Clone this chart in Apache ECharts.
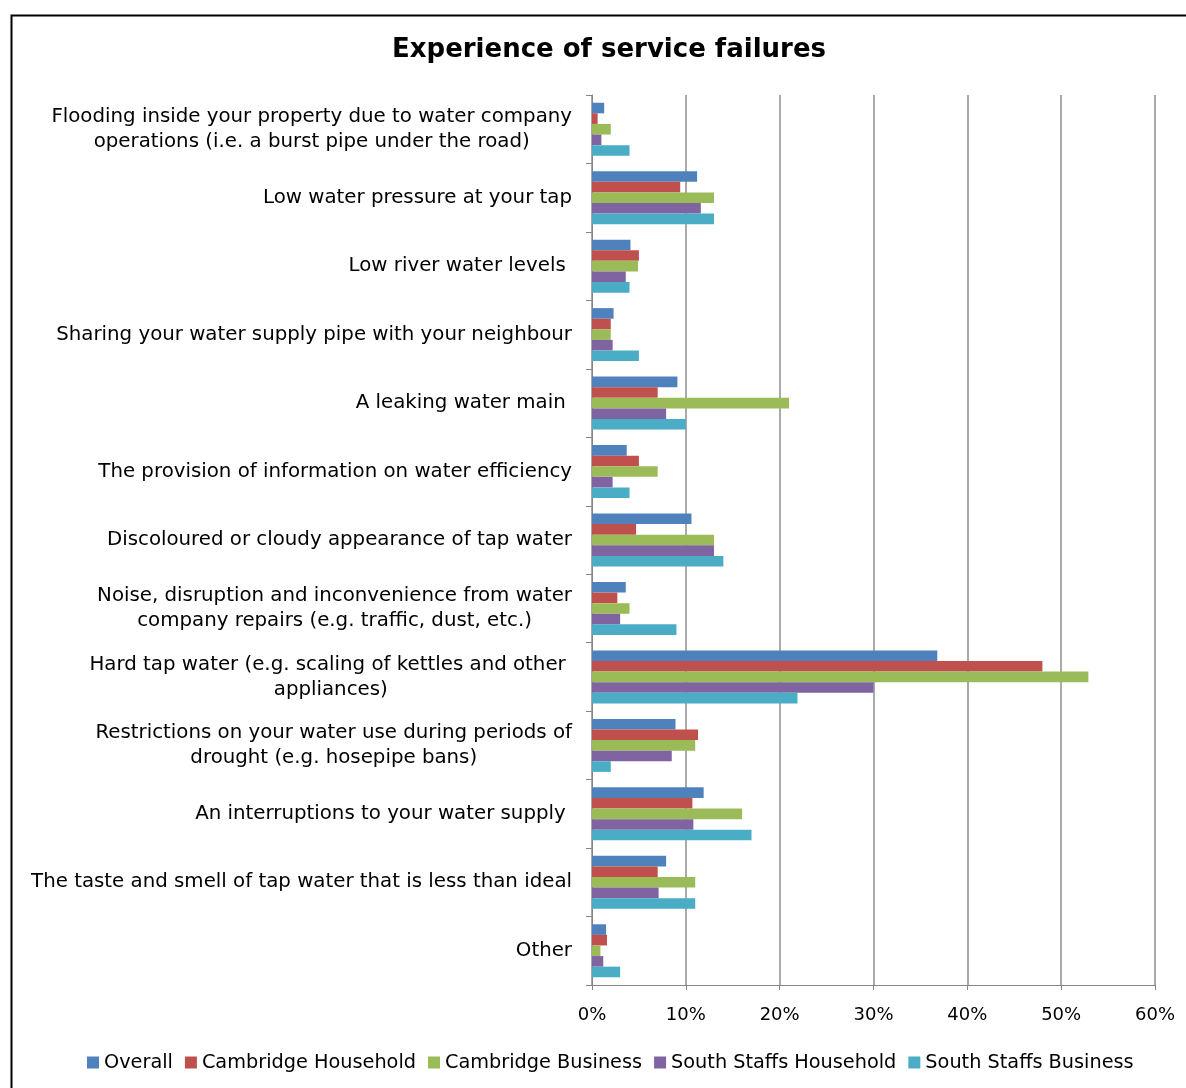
<!DOCTYPE html>
<html>
<head>
<meta charset="utf-8">
<title>Experience of service failures</title>
<script src="https://cdn.jsdelivr.net/npm/echarts@6/dist/echarts.min.js"></script>
<style>
  html, body { margin: 0; padding: 0; background: #fff; }
  #chart { width: 1186px; height: 1088px; }
</style>
</head>
<body>
<div id="chart"></div>
<script>
// Survey categories (top to bottom)
const categories = [
  'Flooding inside your property due to water company\noperations (i.e. a burst pipe under the road)',
  'Low water pressure at your tap',
  'Low river water levels ',
  'Sharing your water supply pipe with your neighbour',
  'A leaking water main ',
  'The provision of information on water efficiency',
  'Discoloured or cloudy appearance of tap water',
  'Noise, disruption and inconvenience from water\ncompany repairs (e.g. traffic, dust, etc.)',
  'Hard tap water (e.g. scaling of kettles and other \nappliances)',
  'Restrictions on your water use during periods of\ndrought (e.g. hosepipe bans)',
  'An interruptions to your water supply ',
  'The taste and smell of tap water that is less than ideal',
  'Other'
];

const seriesNames = ['Overall', 'Cambridge Household', 'Cambridge Business', 'South Staffs Household', 'South Staffs Business'];

// Percentage of respondents per category
const overall              = [1.3, 11.2, 4.1, 2.3,  9.1, 3.7, 10.6, 3.6, 36.8,  8.9, 11.9,  7.9, 1.5];
const cambridgeHousehold   = [0.6,  9.4, 5.0, 2.0,  7.0, 5.0,  4.7, 2.7, 48.0, 11.3, 10.7,  7.0, 1.6];
const cambridgeBusiness    = [2.0, 13.0, 4.9, 2.0, 21.0, 7.0, 13.0, 4.0, 52.9, 11.0, 16.0, 11.0, 0.9];
const southStaffsHousehold = [1.0, 11.6, 3.6, 2.2,  7.9, 2.2, 13.0, 3.0, 30.0,  8.5, 10.8,  7.1, 1.2];
const southStaffsBusiness  = [4.0, 13.0, 4.0, 5.0, 10.0, 4.0, 14.0, 9.0, 21.9,  2.0, 17.0, 11.0, 3.0];

const xTicks = [0, 10, 20, 30, 40, 50, 60];

const colors = ['#4F81BD', '#C0504D', '#9BBB59', '#8064A2', '#4BACC6'];
const allValues = [overall, cambridgeHousehold, cambridgeBusiness, southStaffsHousehold, southStaffsBusiness];

const FONT = 'DejaVu Sans';

const chart = echarts.init(document.getElementById('chart'));

const option = {
  animation: false,
  backgroundColor: '#fff',
  color: colors,
  title: {
    text: 'Experience of service failures',
    left: 604,
    textAlign: 'center',
    top: 32,
    textStyle: { fontFamily: FONT, fontSize: 26, fontWeight: 'bold', color: '#000' }
  },
  graphic: [{
    type: 'rect',
    left: 9, top: 13,
    shape: { width: 1200, height: 1100 },
    style: { fill: 'none', stroke: '#000', lineWidth: 2 },
    silent: true
  }],
  legend: {
    bottom: 11,
    left: 82,
    itemWidth: 12,
    itemHeight: 12,
    itemGap: 12,
    icon: 'rect',
    textStyle: { fontFamily: FONT, fontSize: 19.3, color: '#000' },
    data: seriesNames
  },
  grid: { left: 592, right: 31, top: 95, bottom: 103, containLabel: false },
  xAxis: {
    type: 'value',
    min: xTicks[0],
    max: xTicks[xTicks.length - 1],
    interval: 10,
    axisLine: { show: true, lineStyle: { color: '#868686', width: 1 } },
    axisTick: { show: true, length: 5, lineStyle: { color: '#868686' } },
    axisLabel: {
      formatter: v => v + '%',
      fontFamily: FONT, fontSize: 18, color: '#000', margin: 21
    },
    splitLine: { show: true, lineStyle: { color: '#aaaaaa', width: 2 } }
  },
  yAxis: {
    type: 'category',
    inverse: true,
    data: categories,
    axisLine: { show: true, lineStyle: { color: '#868686', width: 1 } },
    axisTick: { show: true, length: 6, lineStyle: { color: '#868686' } },
    axisLabel: {
      margin: 20,
      align: 'right',
      formatter: v => v.split('\n').map(l => '{c|' + l + '}').join('\n'),
      rich: {
        c: { align: 'center', fontFamily: FONT, fontSize: 19.8, color: '#000', lineHeight: 25 }
      }
    }
  },
  series: seriesNames.map((name, i) => ({
    name: name,
    type: 'bar',
    data: allValues[i],
    barGap: '0%',
    barCategoryGap: '22.6%',
    itemStyle: { color: colors[i] }
  }))
};

chart.setOption(option);
</script>
</body>
</html>
